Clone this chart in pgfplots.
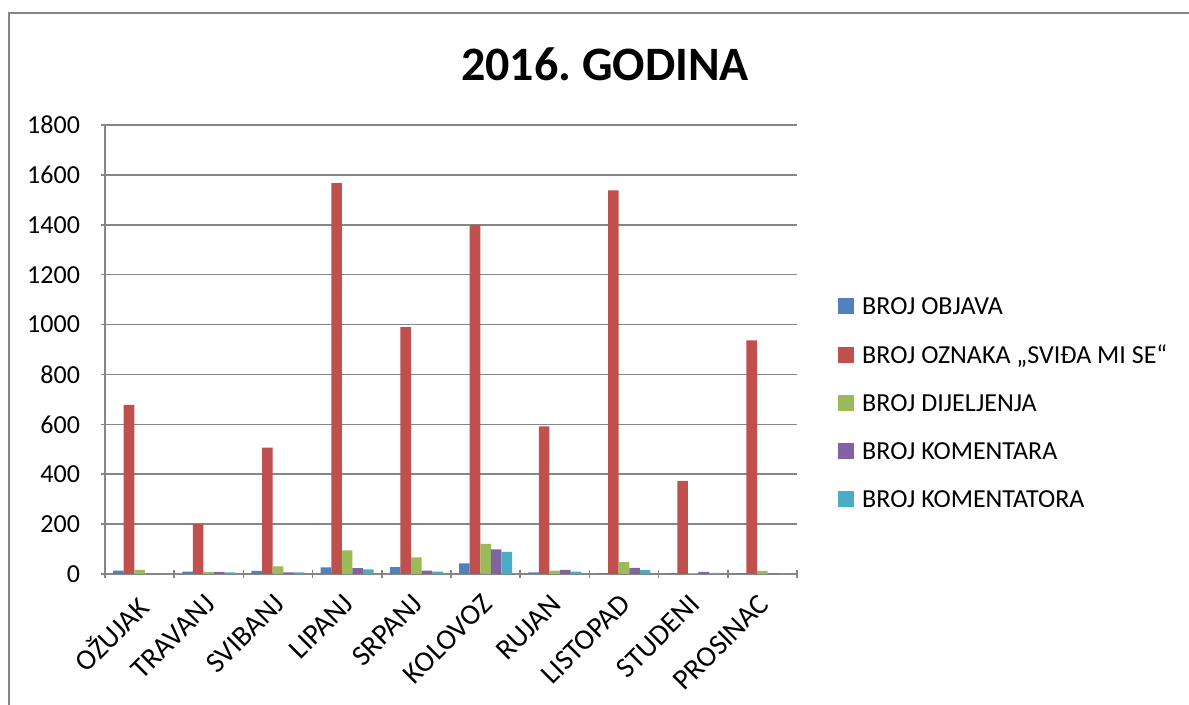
\documentclass[border=0pt]{standalone}
\usepackage{fontspec}
\setmainfont{Carlito}
\usepackage{pgfplots}
\pgfplotsset{compat=1.18}

\definecolor{sBlue}{HTML}{4F81BD}
\definecolor{sRed}{HTML}{C0504D}
\definecolor{sGreen}{HTML}{9BBB59}
\definecolor{sPurple}{HTML}{8064A2}
\definecolor{sCyan}{HTML}{4BACC6}
\definecolor{frameGray}{HTML}{868686}

\frenchspacing
\begin{document}
\begin{tikzpicture}
\useasboundingbox (0,0) rectangle (594.5pt,352.5pt);
\draw[frameGray, line width=0.8pt] (4.5pt,-2pt) -- (4.5pt,346pt) -- (600pt,346pt);
\node[font=\fontsize{24}{28}\selectfont\bfseries] at (302.5pt,320.5pt) {2016. GODINA};
\begin{axis}[
  at={(52.5pt,65.5pt)}, anchor=south west,
  scale only axis, width=346pt, height=224.5pt,
  ybar=0pt, bar width=5.3pt,
  xmin=-0.5, xmax=9.5, ymin=0, ymax=1800,
  ytick={0,200,...,1800},
  xtick={0,...,9},
  xticklabels={OŽUJAK,TRAVANJ,SVIBANJ,LIPANJ,SRPANJ,KOLOVOZ,RUJAN,LISTOPAD,STUDENI,PROSINAC},
  minor xtick={-0.5,0.5,...,9.5},
  x tick style={draw=none},
  minor x tick style={draw=frameGray, line width=0.8pt},
  y tick style={draw=frameGray, line width=0.8pt},
  tick align=outside, major tick length=4pt, minor tick length=4pt,
  axis lines=left, axis line style={-, draw=frameGray, line width=0.8pt},
  ymajorgrids, major grid style={draw=frameGray, line width=0.8pt},
  xminorgrids=false,
  tick label style={font=\fontsize{13}{15}\selectfont},
  /pgf/number format/assume math mode=true,
  /pgf/number format/1000 sep={},
  xticklabel style={rotate=45, anchor=north east, inner sep=1pt,
    font=\fontsize{14.5}{16}\selectfont, xshift=-5.9pt, yshift=-2.2pt},
  yticklabel style={xshift=-7pt},
  legend style={at={(1.059,0.382)}, anchor=west, draw=none, inner sep=0pt,
    font=\fontsize{13}{15}\selectfont, row sep=15.5pt,
    nodes={inner sep=0pt, text depth=0pt}},
  legend cell align=left,
  legend image code/.code={\fill[#1] (0pt,-4pt) rectangle (8pt,4pt);},
]
\addplot[fill=sBlue, draw=none] coordinates {
(0,13)(1,9)(2,12)(3,27)(4,28)(5,43)(6,6)(7,3)(8,3)(9,3)};
\addplot[fill=sRed, draw=none] coordinates {
(0,678)(1,200)(2,507)(3,1567)(4,990)(5,1400)(6,592)(7,1538)(8,373)(9,937)};
\addplot[fill=sGreen, draw=none] coordinates {
(0,17)(1,8)(2,31)(3,95)(4,67)(5,121)(6,13)(7,48)(8,3)(9,12)};
\addplot[fill=sPurple, draw=none] coordinates {
(0,0)(1,8)(2,6)(3,24)(4,13)(5,99)(6,17)(7,25)(8,8)(9,1)};
\addplot[fill=sCyan, draw=none] coordinates {
(0,0)(1,6)(2,6)(3,19)(4,9)(5,89)(6,9)(7,15)(8,4)(9,1)};
\legend{\hspace{4pt}BROJ OBJAVA,\hspace{4pt}BROJ OZNAKA „SVIĐA MI SE“,\hspace{4pt}BROJ DIJELJENJA,\hspace{4pt}BROJ KOMENTARA,\hspace{4pt}BROJ KOMENTATORA}
\end{axis}
\end{tikzpicture}
\end{document}
